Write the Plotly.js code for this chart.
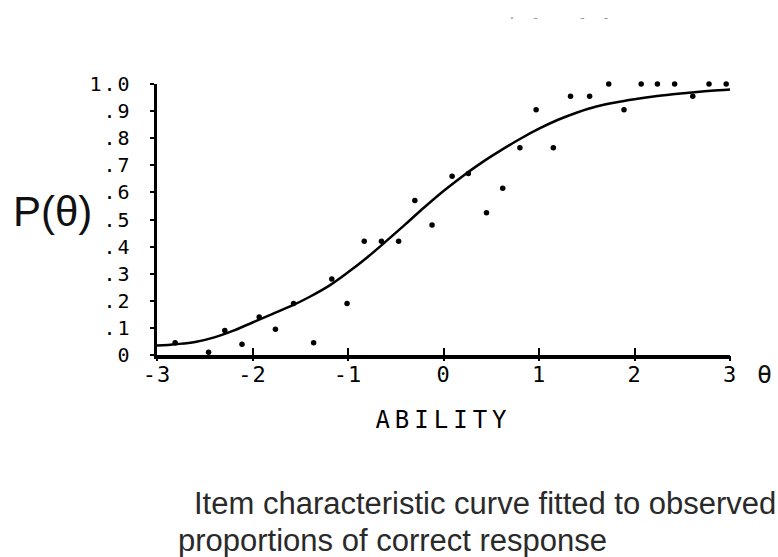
<!DOCTYPE html>
<html>
<head>
<meta charset="utf-8">
<script src="https://cdn.plot.ly/plotly-3.0.1.min.js"></script>
<style>
  html, body { margin: 0; padding: 0; background: #fff; }
  #chart { width: 778px; height: 557px; }
  .ytick text { letter-spacing: 2px; }
  .xtick text { letter-spacing: 1px; }
  .xtitle { letter-spacing: 5px; }
</style>
</head>
<body>
<div id="chart"></div>
<script>
// ---- data ----
const obsTheta = [-2.81, -2.46, -2.29, -2.11, -1.93, -1.76, -1.57, -1.36, -1.17, -1.01,
                  -0.83, -0.65, -0.47, -0.30, -0.12, 0.09, 0.26, 0.45, 0.62, 0.80,
                  0.97, 1.15, 1.33, 1.53, 1.73, 1.89, 2.07, 2.24, 2.42, 2.61, 2.78, 2.96];
const obsProp  = [0.045, 0.01, 0.09, 0.04, 0.14, 0.095, 0.19, 0.045, 0.28, 0.19,
                  0.42, 0.42, 0.42, 0.57, 0.48, 0.66, 0.67, 0.525, 0.615, 0.765,
                  0.905, 0.765, 0.955, 0.955, 1.0, 0.905, 1.0, 1.0, 1.0, 0.955, 1.0, 1.0];
const outlierTheta = [1.06];
const outlierProp  = [1.075];

const curveTheta = [-3.0, -2.8, -2.6, -2.4, -2.2, -2.0, -1.8, -1.6, -1.4, -1.2, -1.0,
                    -0.8, -0.6, -0.4, -0.2, 0.0, 0.2, 0.4, 0.6, 0.8, 1.0,
                    1.2, 1.4, 1.6, 1.8, 2.0, 2.2, 2.4, 2.6, 2.8, 3.0];
const curveP     = [0.035, 0.040, 0.048, 0.065, 0.090, 0.120, 0.150, 0.180, 0.215, 0.255, 0.305,
                    0.360, 0.420, 0.482, 0.545, 0.605, 0.660, 0.710, 0.755, 0.797, 0.835,
                    0.868, 0.895, 0.917, 0.932, 0.944, 0.954, 0.962, 0.969, 0.975, 0.980];

const xTickVals = [-3, -2, -1, 0, 1, 2, 3];
const xTickText = ['-3', '-2', '-1', '0', '1', '2', '3'];
const yTickVals = [0, 0.1, 0.2, 0.3, 0.4, 0.5, 0.6, 0.7, 0.8, 0.9, 1.0];
const yTickText = ['0', '.1', '.2', '.3', '.4', '.5', '.6', '.7', '.8', '.9', '1.0'];

const xTitle = 'ABILITY';
const yTitle = 'P(θ)';
const thetaLabel = 'θ';
const captionLine1 = 'Item characteristic curve fitted to observed';
const captionLine2 = 'proportions of correct response';
const topFragment = '·  -     -  -';

// ---- layout geometry ----
const W = 778, H = 557;
const L = 157, R = 48, T = 84, B = 202;
const PW = W - L - R, PH = H - T - B;
const px = x => (x - L) / PW;
const py = y => (H - B - y) / PH;

const mono = 'DejaVu Sans Mono, Liberation Mono, monospace';
const sans = 'Liberation Sans, Arial, sans-serif';

const traces = [
  {
    x: curveTheta, y: curveP, type: 'scatter', mode: 'lines',
    line: { color: '#000', width: 2.5, shape: 'spline', smoothing: 1 },
    hoverinfo: 'skip', showlegend: false
  },
  {
    x: obsTheta, y: obsProp, type: 'scatter', mode: 'markers',
    marker: { color: '#000', size: 5.5 },
    cliponaxis: false, showlegend: false
  },
  {
    x: outlierTheta, y: outlierProp, type: 'scatter', mode: 'markers',
    marker: { color: '#000', size: 3.5 },
    cliponaxis: false, showlegend: false
  },
  {
    x: [], y: [], xaxis: 'x2', yaxis: 'y', type: 'scatter', showlegend: false
  }
];

const layout = {
  width: W, height: H,
  margin: { l: L, r: R, t: T, b: B, pad: 0 },
  paper_bgcolor: '#fff', plot_bgcolor: '#fff',
  showlegend: false,
  xaxis: {
    range: [-3, 3], fixedrange: true,
    showgrid: false, zeroline: false,
    showline: true, linecolor: '#000', linewidth: 3.5,
    tickmode: 'array', tickvals: xTickVals, ticktext: xTickText,
    ticks: 'inside', ticklen: 7, tickwidth: 2, tickcolor: '#000',
    ticklabelstandoff: -3,
    tickfont: { family: mono, size: 22, color: '#000' },
    title: { text: xTitle, font: { family: mono, size: 24, color: '#000' }, standoff: 26 },
    automargin: false
  },
  xaxis2: {
    overlaying: 'x', anchor: 'y', side: 'bottom',
    range: [-3, 3], fixedrange: true,
    showgrid: false, zeroline: false, showline: false,
    tickmode: 'array', tickvals: xTickVals, showticklabels: false,
    ticks: 'outside', ticklen: 5, tickwidth: 2, tickcolor: '#000'
  },
  yaxis: {
    range: [0, 1], fixedrange: true,
    showgrid: false, zeroline: false,
    showline: true, linecolor: '#000', linewidth: 3.5,
    tickmode: 'array', tickvals: yTickVals, ticktext: yTickText,
    ticks: 'outside', ticklen: 4, tickwidth: 2, tickcolor: '#000',
    ticklabelstandoff: 14,
    tickfont: { family: mono, size: 20, color: '#000' },
    automargin: false
  },
  annotations: [
    { xref: 'paper', yref: 'paper', x: px(11), y: py(211), xanchor: 'left', yanchor: 'middle',
      text: yTitle, showarrow: false, font: { family: sans, size: 42, color: '#111' } },
    { xref: 'paper', yref: 'paper', x: px(764), y: py(374), xanchor: 'center', yanchor: 'middle',
      text: thetaLabel, showarrow: false, font: { family: mono, size: 25, color: '#111' } },
    { xref: 'paper', yref: 'paper', x: px(778), y: py(503), xanchor: 'right', yanchor: 'middle',
      text: captionLine1, showarrow: false, font: { family: sans, size: 31, color: '#2a2a2a' } },
    { xref: 'paper', yref: 'paper', x: px(176), y: py(540), xanchor: 'left', yanchor: 'middle',
      text: captionLine2, showarrow: false, font: { family: sans, size: 31, color: '#2a2a2a' } },
    { xref: 'paper', yref: 'paper', x: px(559), y: py(17), xanchor: 'center', yanchor: 'middle',
      text: topFragment, showarrow: false, font: { family: mono, size: 13, color: '#9a9a9a' } }
  ]
};

Plotly.newPlot('chart', traces, layout, { staticPlot: true, displayModeBar: false });
</script>
</body>
</html>
